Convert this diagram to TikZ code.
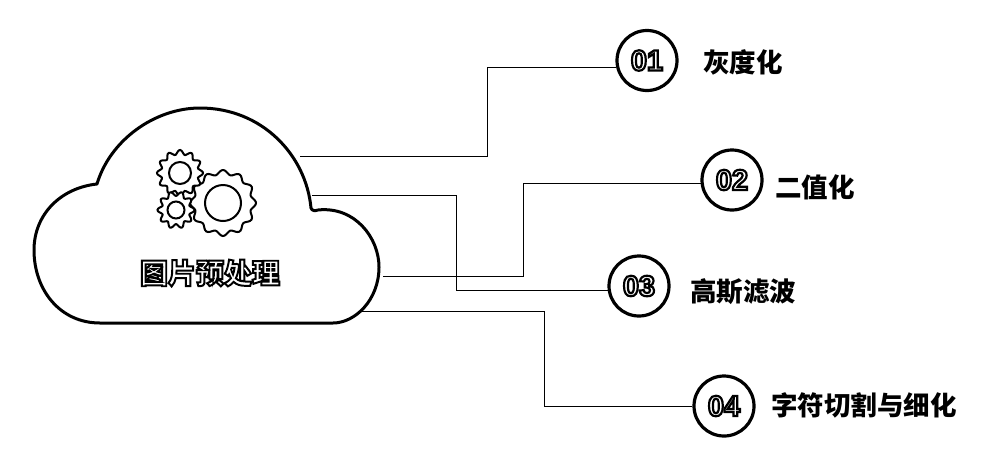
\documentclass[tikz,border=0pt]{standalone}
\usepackage{fontspec}
\newfontfamily\cjk{Noto Sans CJK SC}
\newfontfamily\outlinecjk[BoldFeatures={FakeBold=7}]{Noto Sans CJK SC}
\newfontfamily\outlinenum[BoldFeatures={FakeBold=7.5}]{Liberation Sans}

% texto blanco con contorno negro
\newcommand{\outlined}[1]{\textcolor{white}{\special{pdf:code 0 0 0 RG}#1}}

\tikzset{
    stepcircle/.style={circle, draw, line width=3.2pt, minimum size=60pt, inner sep=0pt, font=\outlinenum\fontsize{29}{29}\selectfont\bfseries},
    steplabel/.style={inner sep=0pt, font=\cjk\fontsize{26.5}{27}\selectfont\bfseries},
    branch/.style={line width=1pt},
    gearline/.style={line width=2pt}
}

% rueda dentada: x, y, radio exterior, radio interior, dientes
\newcommand{\gearwheel}[5]{
    \draw[gearline, fill=white] plot [smooth cycle, domain=0:358, samples=120]
        ({#1 + (#3 - 2.2 + 2.2*cos(#5*\x))*cos(\x)}, {#2 + (#3 - 2.2 + 2.2*cos(#5*\x))*sin(\x)});
    \draw[gearline] (#1, #2) circle (#4);
}

\begin{document}
\begin{tikzpicture}[x=1pt, y=-1pt]
    \useasboundingbox (0, 0) rectangle (987, 459);

    % Nube
    \draw[line width=3pt, line join=round] (97, 184)
        .. controls (110, 140) and (155, 108) .. (200, 108)
        .. controls (262, 108) and (306, 155) .. (311, 208)
        .. controls (312, 211) and (315, 211) .. (318, 210)
        .. controls (355, 206) and (379, 238) .. (379, 267)
        .. controls (379, 300) and (355, 323) .. (333, 323)
        -- (100, 323)
        .. controls (60, 323) and (34, 290) .. (34, 250)
        .. controls (34, 215) and (60, 188) .. (97, 184) -- cycle;

    % Engranajes
    \gearwheel{223}{203}{33}{18}{12}
    \gearwheel{180}{173}{23}{11}{12}
    \gearwheel{176}{210}{18.5}{8.5}{10}

    % Texto de la nube
    \node[inner sep=0pt, font=\outlinecjk\fontsize{28}{28}\selectfont\bfseries] (title) at (210, 273) {\outlined{图片预处理}};

    % Circulos numerados
    \node[stepcircle] (c1) at (647, 60.5) {\outlined{01}};
    \node[stepcircle] (c2) at (732, 180) {\outlined{02}};
    \node[stepcircle] (c3) at (639, 286) {\outlined{03}};
    \node[stepcircle] (c4) at (724, 406) {\outlined{04}};

    % Etiquetas
    \node[steplabel, anchor=west] (l1) at (703, 62) {灰度化};
    \node[steplabel, anchor=west] (l2) at (775, 187) {二值化};
    \node[steplabel, anchor=west] (l3) at (690, 292) {高斯滤波};
    \node[steplabel, anchor=west] (l4) at (771, 405) {字符切割与细化};

    % Salidas de la nube
    \coordinate (s1) at (300, 156);
    \coordinate (s2) at (383, 276);
    \coordinate (s3) at (312, 195);
    \coordinate (s4) at (362, 311);

    % Lineas de union
    \draw[branch] (s1) -- (487, 156) |- (c1.192);
    \draw[branch] (s2) -- (523, 276) |- (c2.187);
    \draw[branch] (s3) -- (456, 195) |- (c3.189);
    \draw[branch] (s4) -- (544, 311) |- (c4.west);
\end{tikzpicture}
\end{document}
